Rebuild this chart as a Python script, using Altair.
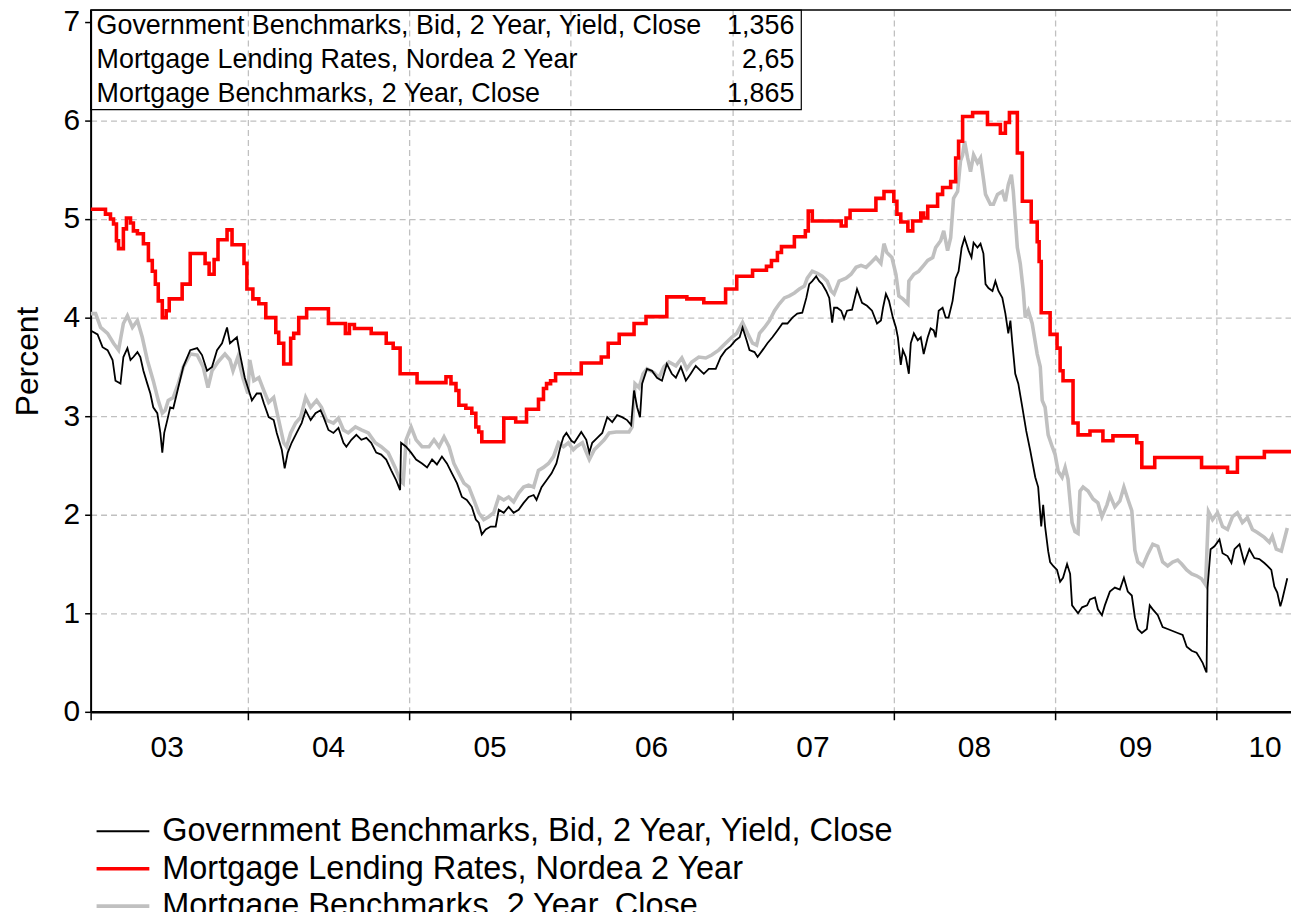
import altair as alt
import pandas as pd

FONT = "Liberation Sans"

SERIES = ["Government Benchmarks, Bid, 2 Year, Yield, Close",
          "Mortgage Lending Rates, Nordea 2 Year",
          "Mortgage Benchmarks, 2 Year, Close"]
COLORS = ["#000000", "#ff0000", "#c0c0c0"]
WIDTHS = [1.8, 3.6, 3.6]
LAST_VALUES = ["1,356", "2,65", "1,865"]

YEAR_LABELS = ["03", "04", "05", "06", "07", "08", "09", "10"]
YEAR_LABEL_POS = [2003.5, 2004.5, 2005.5, 2006.5, 2007.5, 2008.5, 2009.5, 2010.3]
YEAR_TICKS = [2003.026, 2004, 2005, 2006, 2007, 2008, 2009, 2010]

# Government Benchmarks, Bid, 2 Year, Yield, Close
gov_t = [2003.026, 2003.069, 2003.100, 2003.131, 2003.162, 2003.180, 2003.211, 2003.229, 2003.254, 2003.273,
         2003.291, 2003.316, 2003.334, 2003.353, 2003.377, 2003.396, 2003.414, 2003.439, 2003.458, 2003.470,
         2003.482, 2003.501, 2003.519, 2003.538, 2003.569, 2003.600, 2003.643, 2003.686, 2003.716, 2003.747,
         2003.778, 2003.809, 2003.840, 2003.871, 2003.889, 2003.932, 2003.951, 2003.981, 2004.000, 2004.025,
         2004.055, 2004.080, 2004.099, 2004.129, 2004.160, 2004.179, 2004.210, 2004.228, 2004.247, 2004.271,
         2004.302, 2004.333, 2004.358, 2004.389, 2004.419, 2004.450, 2004.469, 2004.499, 2004.530, 2004.561,
         2004.592, 2004.610, 2004.641, 2004.672, 2004.703, 2004.734, 2004.764, 2004.795, 2004.826, 2004.857,
         2004.888, 2004.918, 2004.943, 2004.949, 2004.980, 2005.011, 2005.042, 2005.079, 2005.110, 2005.141,
         2005.171, 2005.202, 2005.233, 2005.264, 2005.295, 2005.326, 2005.356, 2005.387, 2005.412, 2005.430,
         2005.449, 2005.473, 2005.504, 2005.535, 2005.554, 2005.585, 2005.615, 2005.646, 2005.677, 2005.708,
         2005.739, 2005.770, 2005.788, 2005.819, 2005.850, 2005.881, 2005.911, 2005.936, 2005.955, 2005.973,
         2006.004, 2006.022, 2006.065, 2006.096, 2006.115, 2006.133, 2006.164, 2006.195, 2006.226, 2006.257,
         2006.287, 2006.318, 2006.349, 2006.374, 2006.392, 2006.411, 2006.429, 2006.442, 2006.472, 2006.503,
         2006.534, 2006.565, 2006.595, 2006.626, 2006.651, 2006.682, 2006.713, 2006.743, 2006.774, 2006.805,
         2006.824, 2006.855, 2006.898, 2006.929, 2006.959, 2006.990, 2007.021, 2007.046, 2007.064, 2007.089,
         2007.107, 2007.138, 2007.157, 2007.188, 2007.218, 2007.249, 2007.280, 2007.311, 2007.342, 2007.373,
         2007.403, 2007.434, 2007.459, 2007.477, 2007.496, 2007.520, 2007.539, 2007.557, 2007.582, 2007.601,
         2007.619, 2007.631, 2007.650, 2007.675, 2007.693, 2007.711, 2007.742, 2007.773, 2007.804, 2007.835,
         2007.866, 2007.897, 2007.921, 2007.934, 2007.952, 2007.971, 2007.995, 2008.014, 2008.026, 2008.044,
         2008.057, 2008.075, 2008.094, 2008.106, 2008.125, 2008.149, 2008.168, 2008.186, 2008.211, 2008.229,
         2008.248, 2008.260, 2008.279, 2008.303, 2008.322, 2008.340, 2008.365, 2008.384, 2008.402, 2008.421,
         2008.439, 2008.464, 2008.482, 2008.495, 2008.519, 2008.538, 2008.556, 2008.569, 2008.587, 2008.612,
         2008.630, 2008.649, 2008.673, 2008.692, 2008.710, 2008.723, 2008.735, 2008.753, 2008.772, 2008.797,
         2008.821, 2008.846, 2008.877, 2008.895, 2008.914, 2008.926, 2008.938, 2008.957, 2008.969, 2008.988,
         2009.012, 2009.031, 2009.049, 2009.074, 2009.093, 2009.105, 2009.123, 2009.142, 2009.167, 2009.198,
         2009.216, 2009.247, 2009.265, 2009.290, 2009.308, 2009.339, 2009.370, 2009.401, 2009.426, 2009.450,
         2009.475, 2009.494, 2009.512, 2009.537, 2009.568, 2009.586, 2009.605, 2009.636, 2009.666, 2009.697,
         2009.728, 2009.759, 2009.790, 2009.815, 2009.846, 2009.876, 2009.895, 2009.913, 2009.932, 2009.938,
         2009.944, 2009.963, 2009.987, 2010.018, 2010.037, 2010.068, 2010.092, 2010.111, 2010.142, 2010.172,
         2010.203, 2010.234, 2010.265, 2010.296, 2010.315, 2010.339, 2010.358, 2010.376, 2010.395, 2010.407,
         2010.438]
gov_v = [3.87, 3.83, 3.70, 3.67, 3.57, 3.36, 3.33, 3.60, 3.69, 3.57,
         3.60, 3.65, 3.60, 3.46, 3.33, 3.23, 3.09, 3.03, 2.83, 2.63,
         2.83, 2.96, 3.09, 3.08, 3.29, 3.50, 3.67, 3.69, 3.62, 3.46,
         3.50, 3.67, 3.74, 3.90, 3.74, 3.80, 3.63, 3.39, 3.29, 3.16,
         3.23, 3.23, 3.13, 2.99, 2.96, 2.83, 2.66, 2.47, 2.63, 2.73,
         2.83, 2.93, 3.06, 2.96, 3.03, 3.06, 2.99, 2.86, 2.83, 2.88,
         2.73, 2.69, 2.76, 2.81, 2.76, 2.78, 2.73, 2.63, 2.61, 2.56,
         2.45, 2.35, 2.25, 2.73, 2.69, 2.63, 2.56, 2.52, 2.48, 2.56,
         2.51, 2.59, 2.52, 2.42, 2.32, 2.18, 2.15, 2.08, 1.95, 1.92,
         1.80, 1.85, 1.88, 1.88, 2.05, 2.02, 2.08, 2.02, 2.05, 2.12,
         2.18, 2.20, 2.15, 2.28, 2.35, 2.42, 2.52, 2.69, 2.79, 2.83,
         2.75, 2.73, 2.84, 2.76, 2.63, 2.73, 2.78, 2.83, 2.99, 2.94,
         3.01, 2.99, 2.96, 2.91, 3.26, 3.09, 2.99, 3.33, 3.48, 3.46,
         3.39, 3.36, 3.53, 3.43, 3.39, 3.50, 3.36, 3.43, 3.51, 3.46,
         3.43, 3.48, 3.48, 3.60, 3.67, 3.71, 3.77, 3.80, 3.90, 3.77,
         3.67, 3.65, 3.60, 3.67, 3.74, 3.80, 3.87, 3.94, 3.94, 4.00,
         4.04, 4.05, 4.20, 4.34, 4.37, 4.42, 4.37, 4.34, 4.27, 4.20,
         3.95, 4.10, 4.10, 4.07, 3.99, 4.07, 4.08, 4.29, 4.15, 4.12,
         4.07, 3.94, 3.97, 4.10, 4.24, 4.17, 4.00, 3.90, 3.80, 3.52,
         3.67, 3.60, 3.43, 3.74, 3.84, 3.77, 3.80, 3.63, 3.80, 3.89,
         3.87, 3.80, 4.07, 4.10, 4.00, 4.00, 4.17, 4.40, 4.47, 4.71,
         4.81, 4.68, 4.61, 4.76, 4.71, 4.75, 4.65, 4.34, 4.30, 4.27,
         4.37, 4.27, 4.20, 4.04, 3.84, 3.97, 3.74, 3.43, 3.33, 3.09,
         2.85, 2.65, 2.38, 2.28, 1.88, 2.10, 1.88, 1.63, 1.52, 1.48,
         1.44, 1.32, 1.36, 1.50, 1.40, 1.08, 1.04, 1.00, 1.06, 1.08,
         1.14, 1.16, 1.04, 0.98, 1.08, 1.22, 1.26, 1.24, 1.36, 1.22,
         1.18, 0.96, 0.84, 0.80, 0.84, 1.08, 1.04, 0.98, 0.86, 0.84,
         0.82, 0.80, 0.78, 0.66, 0.62, 0.60, 0.55, 0.50, 0.42, 0.40,
         1.26, 1.65, 1.68, 1.75, 1.61, 1.58, 1.51, 1.65, 1.70, 1.51,
         1.65, 1.56, 1.55, 1.51, 1.48, 1.44, 1.27, 1.21, 1.07, 1.14,
         1.356]

# Mortgage Lending Rates, Nordea 2 Year (step changes)
mlr_t = [2003.026, 2003.118, 2003.149, 2003.168, 2003.186, 2003.199, 2003.229, 2003.248, 2003.273, 2003.291,
         2003.316, 2003.353, 2003.384, 2003.408, 2003.427, 2003.445, 2003.470, 2003.494, 2003.513, 2003.593,
         2003.643, 2003.735, 2003.760, 2003.791, 2003.815, 2003.871, 2003.902, 2003.976, 2003.994, 2004.031,
         2004.068, 2004.111, 2004.173, 2004.191, 2004.222, 2004.265, 2004.284, 2004.315, 2004.364, 2004.499,
         2004.604, 2004.629, 2004.660, 2004.764, 2004.857, 2004.900, 2004.943, 2005.048, 2005.227, 2005.258,
         2005.289, 2005.307, 2005.350, 2005.387, 2005.412, 2005.430, 2005.449, 2005.585, 2005.659, 2005.726,
         2005.800, 2005.831, 2005.850, 2005.875, 2005.906, 2006.065, 2006.189, 2006.232, 2006.300, 2006.392,
         2006.466, 2006.595, 2006.719, 2006.824, 2006.959, 2007.028, 2007.126, 2007.212, 2007.243, 2007.280,
         2007.305, 2007.385, 2007.453, 2007.471, 2007.496, 2007.675, 2007.705, 2007.730, 2007.890, 2007.940,
         2008.001, 2008.020, 2008.044, 2008.088, 2008.118, 2008.168, 2008.186, 2008.211, 2008.272, 2008.303,
         2008.353, 2008.384, 2008.402, 2008.427, 2008.489, 2008.581, 2008.661, 2008.692, 2008.717, 2008.766,
         2008.797, 2008.852, 2008.889, 2008.901, 2008.914, 2008.969, 2009.012, 2009.031, 2009.049, 2009.111,
         2009.142, 2009.216, 2009.296, 2009.358, 2009.506, 2009.537, 2009.617, 2009.907, 2010.068, 2010.129,
         2010.296, 2010.461]
mlr_v = [5.10, 5.05, 5.00, 4.95, 4.78, 4.70, 4.90, 5.01, 4.96, 4.88,
         4.85, 4.75, 4.58, 4.47, 4.34, 4.17, 4.00, 4.07, 4.19, 4.34,
         4.65, 4.55, 4.44, 4.59, 4.79, 4.89, 4.74, 4.55, 4.29, 4.19,
         4.14, 4.00, 3.85, 3.74, 3.53, 3.79, 3.84, 4.00, 4.09, 3.94,
         3.84, 3.93, 3.89, 3.84, 3.74, 3.69, 3.43, 3.34, 3.40, 3.33,
         3.26, 3.11, 3.08, 3.03, 2.89, 2.84, 2.74, 2.98, 2.94, 3.07,
         3.17, 3.28, 3.33, 3.36, 3.43, 3.54, 3.60, 3.74, 3.83, 3.94,
         4.01, 4.21, 4.19, 4.15, 4.29, 4.42, 4.48, 4.52, 4.58, 4.66,
         4.72, 4.82, 4.88, 5.08, 4.98, 4.93, 5.01, 5.09, 5.21, 5.28,
         5.18, 5.05, 4.97, 4.88, 4.98, 5.06, 5.01, 5.13, 5.25, 5.32,
         5.38, 5.62, 5.79, 6.04, 6.08, 5.96, 5.87, 5.98, 6.08, 5.67,
         5.18, 4.97, 4.77, 4.57, 4.05, 3.83, 3.69, 3.46, 3.36, 2.93,
         2.81, 2.85, 2.75, 2.80, 2.73, 2.48, 2.58, 2.48, 2.43, 2.58,
         2.64, 2.65]

# Mortgage Benchmarks, 2 Year, Close
mb_t = [2003.026, 2003.057, 2003.088, 2003.131, 2003.168, 2003.199, 2003.229, 2003.254, 2003.285, 2003.316,
        2003.346, 2003.377, 2003.414, 2003.445, 2003.470, 2003.488, 2003.507, 2003.538, 2003.569, 2003.600,
        2003.643, 2003.686, 2003.723, 2003.753, 2003.778, 2003.815, 2003.858, 2003.889, 2003.908, 2003.938,
        2003.969, 2004.000, 2004.012, 2004.037, 2004.068, 2004.099, 2004.129, 2004.160, 2004.191, 2004.222,
        2004.240, 2004.265, 2004.296, 2004.327, 2004.358, 2004.389, 2004.426, 2004.456, 2004.487, 2004.530,
        2004.561, 2004.592, 2004.622, 2004.666, 2004.703, 2004.746, 2004.789, 2004.826, 2004.869, 2004.912,
        2004.943, 2004.962, 2004.980, 2005.011, 2005.042, 2005.079, 2005.122, 2005.153, 2005.184, 2005.215,
        2005.246, 2005.276, 2005.307, 2005.338, 2005.369, 2005.400, 2005.430, 2005.461, 2005.492, 2005.523,
        2005.554, 2005.585, 2005.615, 2005.646, 2005.677, 2005.708, 2005.739, 2005.770, 2005.800, 2005.831,
        2005.862, 2005.893, 2005.924, 2005.955, 2005.985, 2006.016, 2006.035, 2006.072, 2006.115, 2006.146,
        2006.177, 2006.207, 2006.238, 2006.281, 2006.318, 2006.361, 2006.380, 2006.398, 2006.423, 2006.448,
        2006.472, 2006.516, 2006.546, 2006.577, 2006.608, 2006.651, 2006.688, 2006.719, 2006.750, 2006.793,
        2006.836, 2006.873, 2006.916, 2006.959, 2006.997, 2007.028, 2007.064, 2007.095, 2007.126, 2007.151,
        2007.169, 2007.200, 2007.231, 2007.262, 2007.292, 2007.323, 2007.354, 2007.385, 2007.416, 2007.447,
        2007.465, 2007.496, 2007.527, 2007.557, 2007.588, 2007.613, 2007.631, 2007.662, 2007.705, 2007.736,
        2007.767, 2007.798, 2007.829, 2007.860, 2007.890, 2007.921, 2007.940, 2007.958, 2007.989, 2008.014,
        2008.032, 2008.057, 2008.088, 2008.094, 2008.125, 2008.155, 2008.186, 2008.211, 2008.242, 2008.260,
        2008.291, 2008.310, 2008.334, 2008.353, 2008.371, 2008.396, 2008.414, 2008.427, 2008.439, 2008.458,
        2008.476, 2008.495, 2008.519, 2008.538, 2008.556, 2008.569, 2008.599, 2008.618, 2008.643, 2008.673,
        2008.692, 2008.710, 2008.729, 2008.741, 2008.766, 2008.784, 2008.803, 2008.815, 2008.834, 2008.858,
        2008.889, 2008.908, 2008.920, 2008.938, 2008.957, 2008.982, 2009.000, 2009.019, 2009.043, 2009.062,
        2009.080, 2009.105, 2009.123, 2009.142, 2009.154, 2009.173, 2009.204, 2009.235, 2009.265, 2009.290,
        2009.321, 2009.339, 2009.370, 2009.401, 2009.426, 2009.450, 2009.475, 2009.494, 2009.512, 2009.543,
        2009.574, 2009.605, 2009.636, 2009.666, 2009.697, 2009.728, 2009.759, 2009.784, 2009.815, 2009.846,
        2009.876, 2009.907, 2009.932, 2009.950, 2009.975, 2010.006, 2010.037, 2010.068, 2010.099, 2010.129,
        2010.160, 2010.191, 2010.222, 2010.253, 2010.296, 2010.327, 2010.345, 2010.370, 2010.401, 2010.438]
mb_v = [4.04, 4.04, 3.90, 3.84, 3.74, 3.67, 3.94, 4.02, 3.90, 3.97,
        3.80, 3.57, 3.36, 3.16, 3.03, 3.06, 3.16, 3.19, 3.33, 3.50,
        3.63, 3.62, 3.50, 3.29, 3.46, 3.55, 3.63, 3.57, 3.46, 3.60,
        3.39, 3.23, 3.57, 3.36, 3.39, 3.26, 3.14, 3.19, 2.96, 2.73,
        2.69, 2.83, 2.93, 2.99, 3.19, 3.09, 3.16, 3.09, 2.96, 2.93,
        2.98, 2.86, 2.83, 2.89, 2.86, 2.83, 2.73, 2.69, 2.63, 2.48,
        2.35, 2.32, 2.76, 2.89, 2.76, 2.69, 2.69, 2.76, 2.69, 2.79,
        2.69, 2.52, 2.42, 2.32, 2.28, 2.15, 2.02, 1.95, 1.98, 2.02,
        2.18, 2.15, 2.18, 2.13, 2.22, 2.28, 2.30, 2.28, 2.45, 2.48,
        2.52, 2.59, 2.73, 2.69, 2.73, 2.66, 2.69, 2.73, 2.56, 2.66,
        2.71, 2.76, 2.83, 2.84, 2.84, 2.84, 2.89, 3.33, 3.29, 3.43,
        3.48, 3.44, 3.39, 3.50, 3.55, 3.51, 3.59, 3.48, 3.55, 3.60,
        3.59, 3.62, 3.67, 3.74, 3.80, 3.84, 3.95, 3.84, 3.74, 3.72,
        3.84, 3.90, 3.97, 4.07, 4.14, 4.20, 4.22, 4.25, 4.29, 4.32,
        4.40, 4.47, 4.45, 4.42, 4.37, 4.27, 4.24, 4.37, 4.40, 4.44,
        4.51, 4.53, 4.51, 4.56, 4.61, 4.55, 4.75, 4.66, 4.61, 4.44,
        4.22, 4.19, 4.14, 4.37, 4.44, 4.47, 4.53, 4.58, 4.61, 4.71,
        4.78, 4.88, 4.68, 4.81, 5.21, 5.28, 5.59, 5.65, 5.79, 5.62,
        5.48, 5.65, 5.57, 5.62, 5.41, 5.25, 5.15, 5.15, 5.25, 5.28,
        5.18, 5.35, 5.45, 5.28, 4.71, 4.55, 4.27, 4.00, 4.07, 3.94,
        3.63, 3.50, 3.16, 3.09, 2.81, 2.69, 2.61, 2.44, 2.38, 2.48,
        2.36, 1.92, 1.83, 1.81, 2.24, 2.28, 2.24, 2.16, 2.12, 1.98,
        2.10, 2.20, 2.08, 2.14, 2.28, 2.16, 2.04, 1.64, 1.52, 1.48,
        1.60, 1.70, 1.68, 1.52, 1.48, 1.52, 1.54, 1.50, 1.44, 1.40,
        1.38, 1.35, 1.29, 2.03, 1.95, 2.02, 1.88, 1.85, 1.98, 2.02,
        1.92, 1.97, 1.85, 1.82, 1.77, 1.72, 1.78, 1.65, 1.63, 1.865]

df = pd.concat([
    pd.DataFrame({"t": gov_t, "v": gov_v, "series": SERIES[0]}),
    pd.DataFrame({"t": mlr_t, "v": mlr_v, "series": SERIES[1]}),
    pd.DataFrame({"t": mb_t, "v": mb_v, "series": SERIES[2]}),
], ignore_index=True)

W, H = 1206, 705
x_scale = alt.Scale(domain=[2003.026, 2010.461], nice=False, zero=False)
y_scale = alt.Scale(domain=[0, 7.12], nice=False, zero=True)

x_axis = alt.Axis(values=YEAR_TICKS, labels=False, title=None,
                  grid=True, gridColor="#c0c0c0", gridDash=[6, 4], gridWidth=1.3,
                  gridOpacity={"condition": {"test": "datum.value < 2003.5", "value": 0}, "value": 1},
                  ticks=True, tickSize=8, tickColor="black", tickWidth=1.5,
                  domainColor="black", domainWidth=2.5)
y_axis = alt.Axis(values=[0, 1, 2, 3, 4, 5, 6, 7], format="d", title="Percent",
                  titleFont=FONT, titleFontSize=32, titleFontWeight="normal", titleColor="black",
                  titlePadding=19,
                  labelFont=FONT, labelFontSize=30, labelColor="black", labelPadding=5,
                  ticks=True, tickSize=6, tickColor="black", tickWidth=1.5,
                  domainColor="black", domainWidth=2,
                  grid=True, gridColor="#c0c0c0", gridDash=[6, 4], gridWidth=1.3,
                  gridOpacity={"condition": {"test": "datum.value === 0 || datum.value === 7", "value": 0},
                               "value": 1})

legend = alt.Legend(title=None, orient="none", legendX=4, legendY=809, direction="vertical",
                    symbolType="stroke", symbolSize=2809, labelFont=FONT, labelFontSize=32.6,
                    labelColor="black", labelOffset=11, rowPadding=4.6, clipHeight=32,
                    padding=0, labelLimit=2000)

color = alt.Color("series:N", scale=alt.Scale(domain=SERIES, range=COLORS), legend=legend)
width_enc = alt.StrokeWidth("series:N", scale=alt.Scale(type="ordinal", domain=SERIES, range=WIDTHS),
                            legend=legend)


def line_layer(name, interp):
    return alt.Chart(df).transform_filter(alt.datum.series == name).mark_line(
        interpolate=interp, clip=True
    ).encode(
        x=alt.X("t:Q", scale=x_scale, axis=x_axis),
        y=alt.Y("v:Q", scale=y_scale, axis=y_axis),
        color=color,
        strokeWidth=width_enc,
    )


gray_layer = line_layer(SERIES[2], "linear")
red_layer = line_layer(SERIES[1], "step-after")
black_layer = line_layer(SERIES[0], "linear")

# top frame line of the plot
frame_top = alt.Chart(pd.DataFrame({"v": [7.12]})).mark_rule(color="black", strokeWidth=1.5).encode(
    y=alt.Y("v:Q", scale=y_scale, axis=y_axis), x=alt.value(0), x2=alt.value(W)
)

# year labels centred in each year
year_df = pd.DataFrame({"t": YEAR_LABEL_POS, "label": YEAR_LABELS})
year_text = alt.Chart(year_df).mark_text(font=FONT, fontSize=30, baseline="middle", align="center",
                                         color="black").encode(
    x=alt.X("t:Q", scale=x_scale, axis=x_axis), y=alt.value(741), text="label:N"
)

# top-left value box
box = alt.Chart(pd.DataFrame({"a": [0]})).mark_rect(fillOpacity=0, stroke="black", strokeWidth=1.2).encode(
    x=alt.value(0), x2=alt.value(714), y=alt.value(0), y2=alt.value(100)
)
box_names = alt.Chart(pd.DataFrame({"a": [0]})).mark_text(
    text=SERIES, font=FONT, fontSize=27, align="left", baseline="middle", lineHeight=34, color="black"
).encode(x=alt.value(6), y=alt.value(16))
box_vals = alt.Chart(pd.DataFrame({"a": [0]})).mark_text(
    text=LAST_VALUES, font=FONT, fontSize=27, align="right", baseline="middle", lineHeight=34, color="black"
).encode(x=alt.value(707), y=alt.value(16))

chart = alt.layer(
    gray_layer, red_layer, black_layer, frame_top, year_text, box, box_names, box_vals
).properties(
    width=W, height=H,
    padding={"left": 83, "top": 0, "right": 0, "bottom": 199},
    autosize=alt.AutoSizeParams(type="none"),
).configure(font=FONT).configure_view(stroke=None)

chart.save("out.html", embed_options={"renderer": "svg", "actions": False})
